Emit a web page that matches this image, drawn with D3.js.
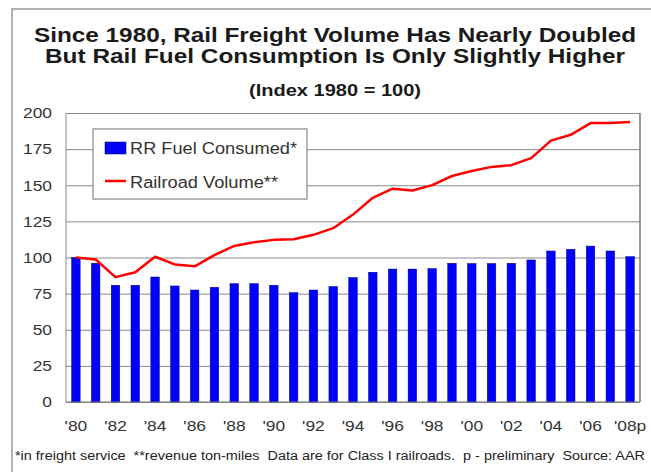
<!DOCTYPE html>
<html>
<head>
<meta charset="utf-8">
<script src="https://cdn.jsdelivr.net/npm/d3@7"></script>
<style>
  html, body { margin: 0; padding: 0; background: #fff; }
  svg { display: block; font-family: "Liberation Sans", Arial, sans-serif; }
</style>
</head>
<body>
<svg id="chart" width="651" height="472"></svg>
<script>
// ---- data ----
const years = d3.range(1980, 2009);
const tickYears = [1980, 1982, 1984, 1986, 1988, 1990, 1992, 1994, 1996, 1998, 2000, 2002, 2004, 2006, 2008];
const tickLabels = ["'80", "'82", "'84", "'86", "'88", "'90", "'92", "'94", "'96", "'98", "'00", "'02", "'04", "'06", "'08p"];
const fuelConsumed = [100, 96, 80.8, 80.8, 86.5, 80.3, 77.5, 79.4, 81.9, 81.9, 80.8, 75.7, 77.5, 79.9,
  86.1, 89.8, 92, 92, 92.3, 96, 95.8, 95.8, 96, 98.3, 104.5, 105.7, 107.9, 104.5, 100.6];
const railroadVolume = [100, 98.6, 86.4, 89.8, 100.5, 95.2, 93.9, 101.7, 108, 110.5, 112.2, 112.6, 115.7, 120.3,
  129.7, 141.3, 147.6, 146.4, 150.1, 156.4, 159.9, 162.7, 163.9, 168.8, 180.9, 184.9, 193, 193, 193.7];
const yTicks = [0, 25, 50, 75, 100, 125, 150, 175, 200];
const titleLines = ["Since 1980, Rail Freight Volume Has Nearly Doubled",
  "But Rail Fuel Consumption Is Only Slightly Higher"];
const subtitle = "(Index 1980 = 100)";
const legendLabels = ["RR Fuel Consumed*", "Railroad Volume**"];
const footnote = "*in freight service  **revenue ton-miles  Data are for Class I railroads.  p - preliminary  Source: AAR";

// ---- layout ----
const SX = 1.16;
const plot = { left: 66, right: 640, top: 113, bottom: 402 };
const svg = d3.select("#chart");

function stretch(sel, sx) {
  sel.each(function () {
    const t = d3.select(this);
    const x = +t.attr("x") || 0;
    t.attr("x", x / sx).attr("transform", `scale(${sx},1)`);
  });
}

// outer frame
svg.append("path")
  .attr("d", "M12,472 L12,9 L651,9")
  .attr("fill", "none").attr("stroke", "#999").attr("stroke-width", 1.5);

// titles
svg.selectAll("text.title").data(titleLines).join("text")
  .attr("class", "title")
  .attr("x", 335).attr("y", (d, i) => [42, 63][i])
  .attr("text-anchor", "middle")
  .attr("font-size", 21).attr("font-weight", "bold").attr("fill", "#1a1a1a")
  .attr("textLength", (d, i) => [602, 580][i])
  .attr("lengthAdjust", "spacingAndGlyphs")
  .text(d => d);

svg.append("text")
  .attr("x", 335).attr("y", 96)
  .attr("text-anchor", "middle")
  .attr("font-size", 16).attr("font-weight", "bold").attr("fill", "#1a1a1a")
  .attr("textLength", 172).attr("lengthAdjust", "spacingAndGlyphs")
  .text(subtitle);

// scales
const x = d3.scaleBand().domain(years).range([plot.left, plot.right])
  .paddingInner(0.57).paddingOuter(0.285);
const y = d3.scaleLinear().domain([0, 200]).range([plot.bottom, plot.top]);

// y axis + gridlines
const gy = svg.append("g").attr("transform", `translate(${plot.left},0)`)
  .call(d3.axisLeft(y).tickValues(yTicks).tickSize(-(plot.right - plot.left)).tickPadding(14));
gy.select(".domain").remove();
gy.selectAll(".tick line").attr("stroke", "#8a8a8a").attr("stroke-width", 1);
gy.selectAll(".tick text").attr("font-size", 15).attr("fill", "#333")
  .attr("font-family", "Liberation Sans, Arial, sans-serif");
stretch(gy.selectAll(".tick text"), SX);

// plot border (left, right)
svg.append("line").attr("x1", plot.left).attr("x2", plot.left).attr("y1", plot.top).attr("y2", plot.bottom)
  .attr("stroke", "#8a8a8a");
svg.append("line").attr("x1", plot.right).attr("x2", plot.right).attr("y1", plot.top).attr("y2", plot.bottom)
  .attr("stroke", "#777").attr("stroke-width", 1.5);

// bars
svg.append("g").selectAll("rect").data(fuelConsumed).join("rect")
  .attr("x", (d, i) => x(years[i]))
  .attr("y", d => y(d))
  .attr("width", x.bandwidth())
  .attr("height", d => y(0) - y(d))
  .attr("fill", "#0000ff")
  .attr("stroke", "#00007a").attr("stroke-width", 0.5);

// baseline
svg.append("line").attr("x1", plot.left).attr("x2", plot.right).attr("y1", y(0)).attr("y2", y(0))
  .attr("stroke", "#777").attr("stroke-width", 1.2);

// line
const line = d3.line()
  .x((d, i) => x(years[i]) + x.bandwidth() / 2)
  .y(d => y(d));
svg.append("path").datum(railroadVolume)
  .attr("d", line)
  .attr("fill", "none").attr("stroke", "#ff0000").attr("stroke-width", 2.5)
  .attr("stroke-linejoin", "round");

// x axis labels
const gx = svg.append("g").attr("transform", `translate(0,${plot.bottom})`)
  .call(d3.axisBottom(x).tickValues(tickYears).tickSize(0).tickPadding(18)
    .tickFormat(d => tickLabels[tickYears.indexOf(d)]));
gx.select(".domain").remove();
gx.selectAll(".tick text").attr("font-size", 15).attr("fill", "#333")
  .attr("font-family", "Liberation Sans, Arial, sans-serif");
stretch(gx.selectAll(".tick text"), SX);

// legend
const lg = svg.append("g");
lg.append("rect").attr("x", 93).attr("y", 129).attr("width", 214).attr("height", 70)
  .attr("fill", "#fff").attr("stroke", "#888").attr("stroke-width", 1.2);
lg.append("rect").attr("x", 105).attr("y", 142).attr("width", 21).attr("height", 12)
  .attr("fill", "#0000ff").attr("stroke", "#00007a").attr("stroke-width", 0.5);
lg.append("line").attr("x1", 105).attr("x2", 126).attr("y1", 181).attr("y2", 181)
  .attr("stroke", "#ff0000").attr("stroke-width", 2.5);
lg.selectAll("text").data(legendLabels).join("text")
  .attr("x", 130).attr("y", (d, i) => [154, 188][i])
  .attr("font-size", 16).attr("fill", "#333")
  .attr("textLength", (d, i) => [167, 148][i]).attr("lengthAdjust", "spacingAndGlyphs")
  .text(d => d);

// footnote
svg.append("text")
  .attr("x", 15).attr("y", 460)
  .attr("font-size", 12).attr("fill", "#222")
  .style("white-space", "pre")
  .attr("textLength", 630).attr("lengthAdjust", "spacingAndGlyphs")
  .text(footnote);
</script>
</body>
</html>
